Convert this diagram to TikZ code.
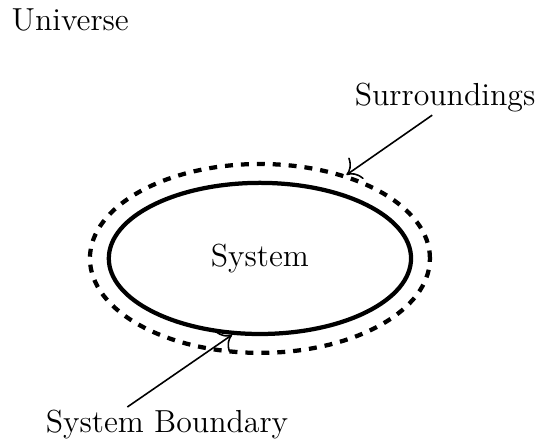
\documentclass[tikz,border=0pt]{standalone}
\usepackage{tikz}
\usetikzlibrary{shapes.geometric, arrows.meta, positioning}

\begin{document}
\begin{tikzpicture}[
  lbl/.style={font=\large, inner sep=1pt},
  sysell/.style={draw, ellipse, ultra thick, font=\large,
                 minimum width=4cm, minimum height=2cm},
  surrell/.style={draw, ellipse, ultra thick, dashed,
                  minimum width=4.5cm, minimum height=2.5cm},
  arr/.style={-{To[scale=1.6]}, semithick},
]
  \useasboundingbox (-3.44,-2.43) rectangle (3.68,3.42);

  \node[sysell]  (sys)  {System};
  \node[surrell] (surr) {};

  \node[lbl] (univ)    at (-2.51,3.15) {Universe};
  \node[lbl] (surrlbl) at (2.45,2.13)  {Surroundings};
  \node[lbl] (bndlbl)  at (-1.23,-2.2) {System Boundary};

  \draw[arr] (surrlbl.234) -- (surr.44);
  \draw[arr] (bndlbl.156)  -- (sys.-110);
\end{tikzpicture}
\end{document}
